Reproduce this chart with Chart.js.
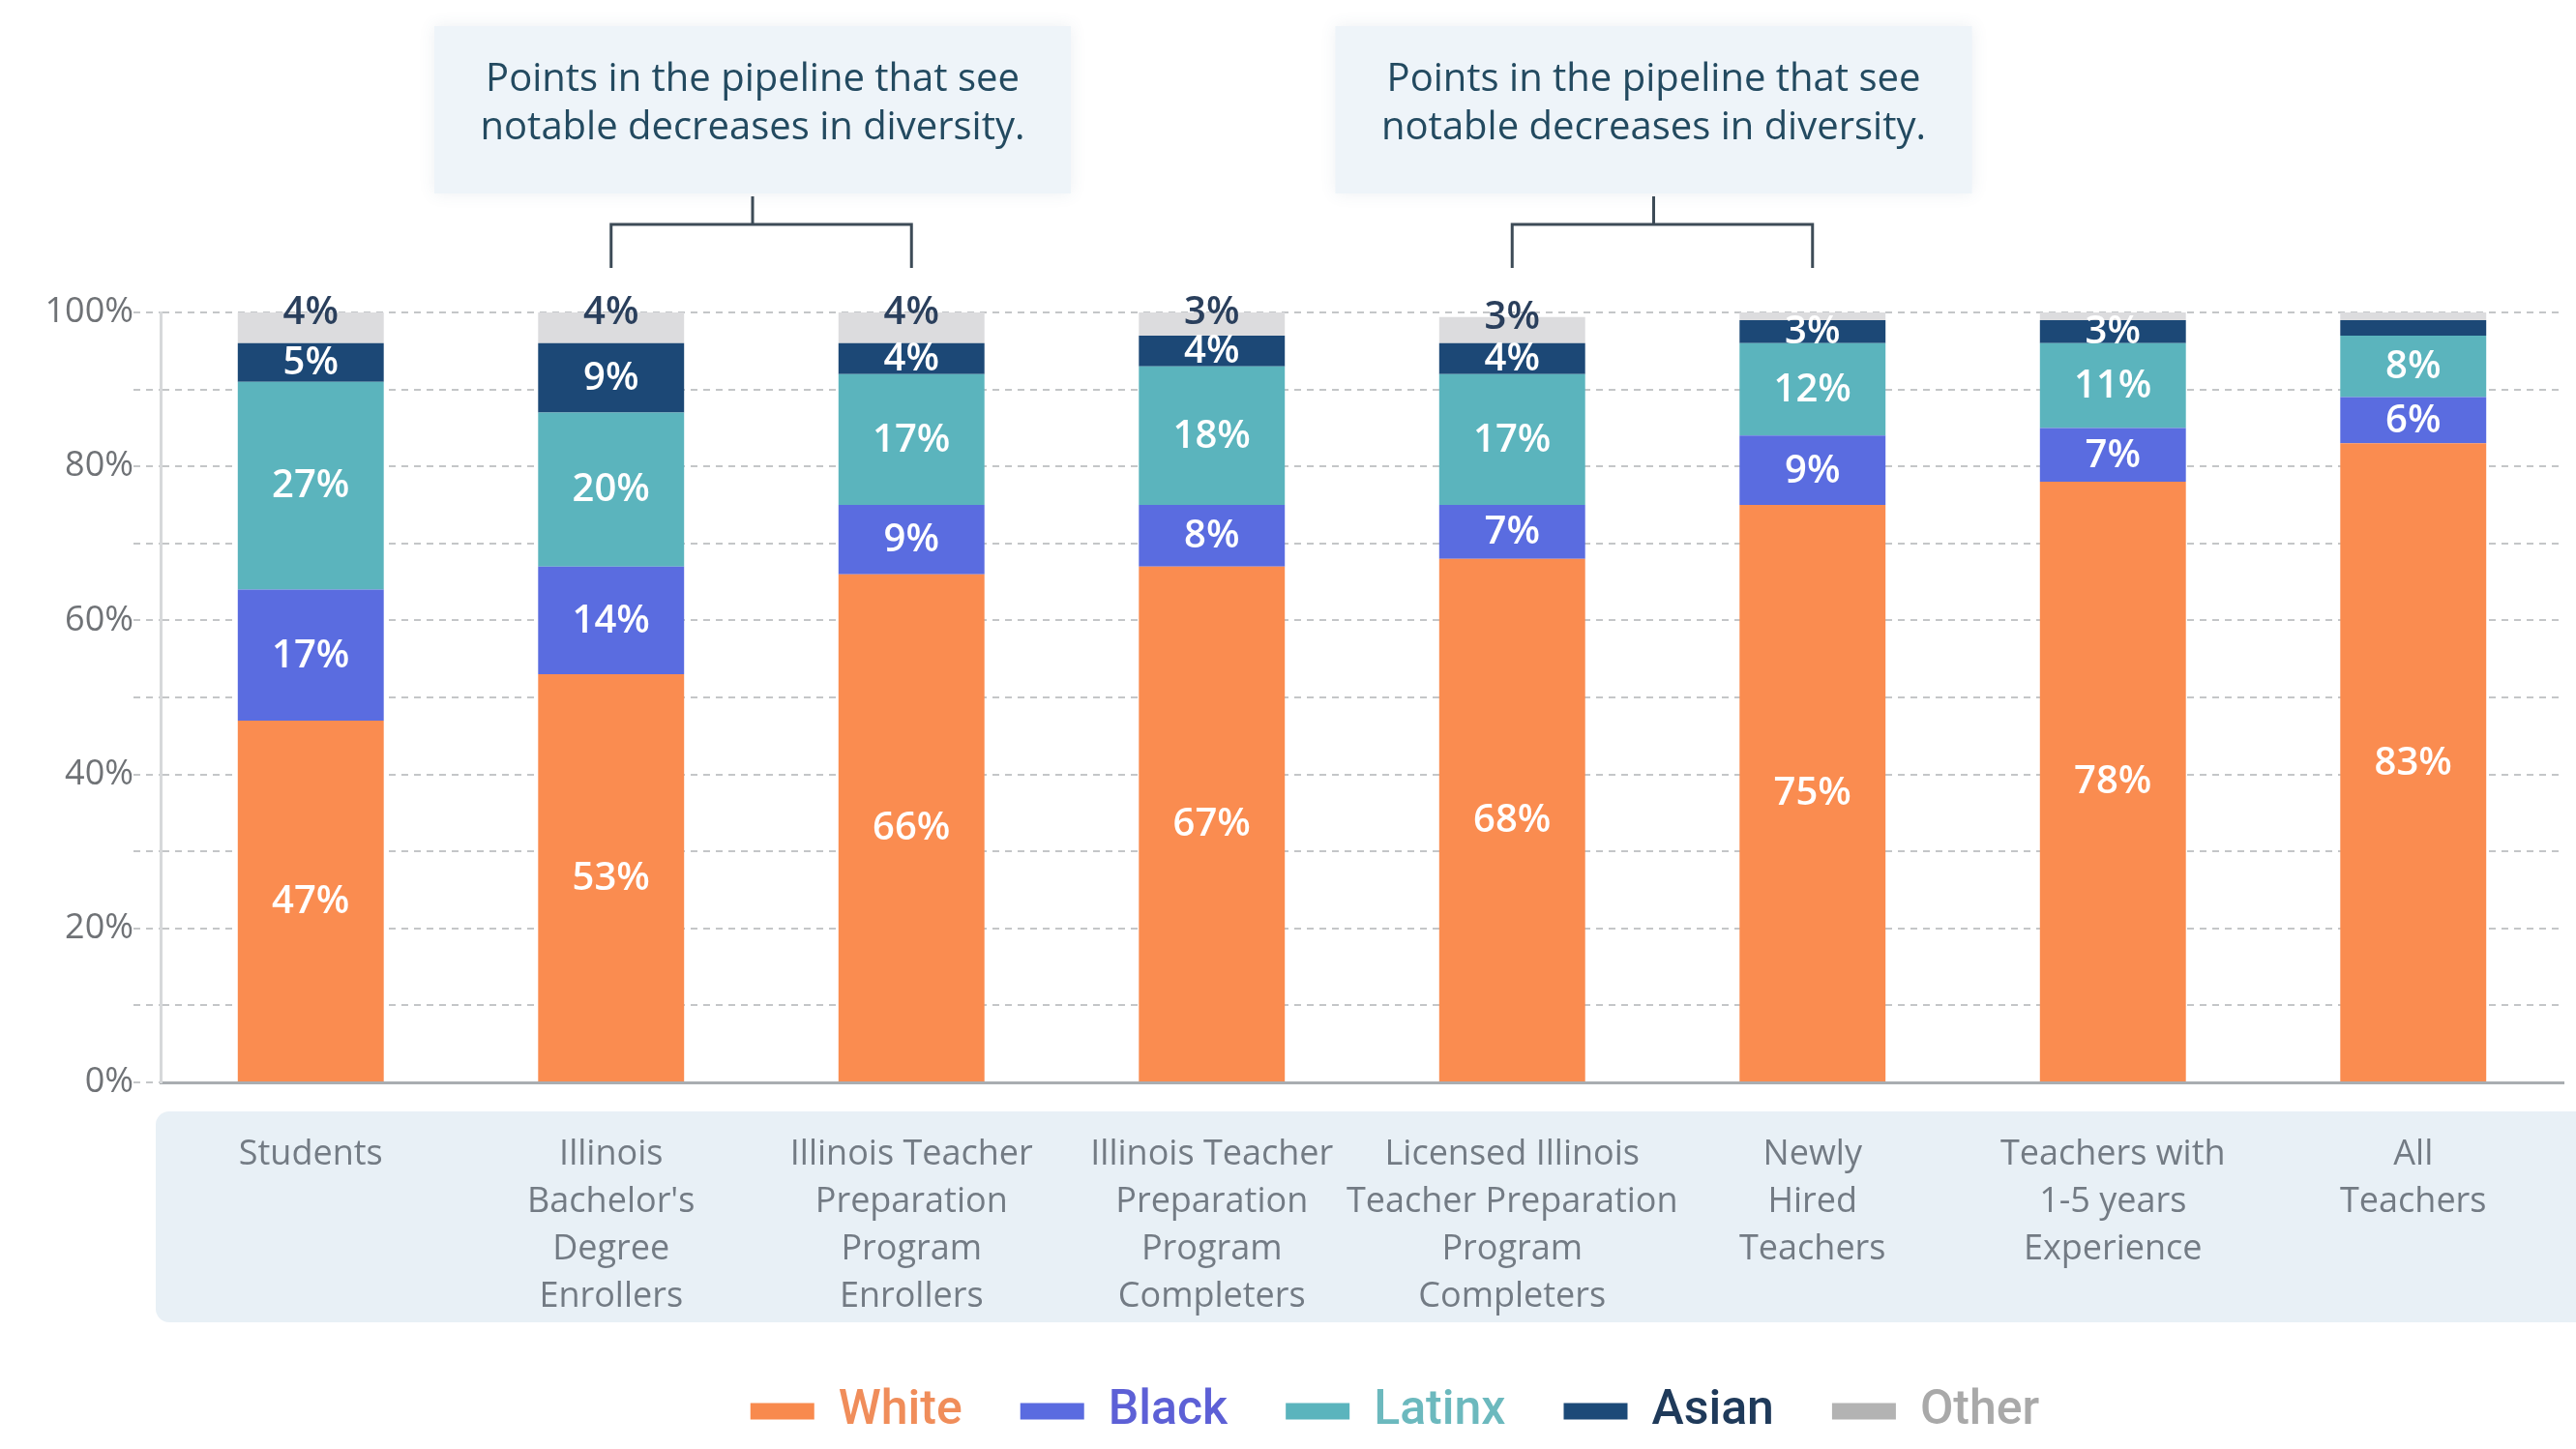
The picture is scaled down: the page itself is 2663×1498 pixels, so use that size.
<!DOCTYPE html>
<html>
<head>
<meta charset="utf-8">
<script src="https://cdn.jsdelivr.net/npm/chart.js@4.4.0/dist/chart.umd.min.js"></script>
<style>
  html, body { margin: 0; padding: 0; background: #fff; }
  #wrap { width: 2663px; height: 1498px; }
</style>
</head>
<body>
<div id="wrap"><canvas id="chart" width="2663" height="1498"></canvas></div>
<script>
const categories = [
  "Students",
  ["Illinois", "Bachelor's", "Degree", "Enrollers"],
  ["Illinois Teacher", "Preparation", "Program", "Enrollers"],
  ["Illinois Teacher", "Preparation", "Program", "Completers"],
  ["Licensed Illinois", "Teacher Preparation", "Program", "Completers"],
  ["Newly", "Hired", "Teachers"],
  ["Teachers with", "1-5 years", "Experience"],
  ["All", "Teachers"]
];

const white  = [47, 53, 66, 67, 68, 75, 78, 83];
const black  = [17, 14, 9, 8, 7, 9, 7, 6];
const latinx = [27, 20, 17, 18, 17, 12, 11, 8];
const asian  = [5, 9, 4, 4, 4, 3, 3, 2];
const other  = [4, 4, 4, 3, 3.4, 1, 1, 1];

const seriesNames = ["White", "Black", "Latinx", "Asian", "Other"];
const barColors   = ["#fa8c50", "#5a6ce0", "#5bb4bd", "#1c4876", "#dcdcde"];
const legendSwatch = ["#f88a4e", "#5a6be0", "#5bb4bd", "#1c4a78", "#b3b3b3"];
const legendText   = ["#f08d5a", "#5d60d6", "#6cb9be", "#1f3a5a", "#a9a9a9"];

const yTicks = [0, 20, 40, 60, 80, 100];

// callouts: pairs of category indexes joined by a bracket
const calloutPairs = [[1, 2], [4, 5]];
const calloutLines = ["Points in the pipeline that see", "notable decreases in diversity."];

const decor = {
  id: "decor",
  afterLayout(chart) {
    const lg = chart.legend;
    lg.left += 117;
    lg.right += 117;
  },
  beforeDraw(chart) {
    const ctx = chart.ctx;
    const area = chart.chartArea;
    ctx.save();
    ctx.fillStyle = "#e8f0f6";
    ctx.beginPath();
    ctx.roundRect(area.left - 5, area.bottom + 30, chart.width - area.left + 5, 218, [14, 0, 0, 14]);
    ctx.fill();
    ctx.restore();
  },
  afterDatasetsDraw(chart) {
    const ctx = chart.ctx;
    ctx.save();
    ctx.font = "600 40px 'Open Sans'";
    ctx.textAlign = "center";
    ctx.textBaseline = "middle";
    chart.data.datasets.forEach((ds, di) => {
      const meta = chart.getDatasetMeta(di);
      meta.data.forEach((bar, i) => {
        const v = ds.data[i];
        if (v < 2.5) return;
        const isOther = ds.label === "Other";
        const y = isOther ? bar.y : (bar.y + bar.base) / 2;
        ctx.fillStyle = isOther ? "#2a3f5c" : "#ffffff";
        ctx.fillText(Math.round(v) + "%", bar.x, y + 1);
      });
    });
    ctx.restore();
  },
  afterDraw(chart) {
    const ctx = chart.ctx;
    const xs = chart.scales.x;
    calloutPairs.forEach(([a, b]) => {
      const xa = xs.getPixelForValue(a);
      const xb = xs.getPixelForValue(b);
      const mid = (xa + xb) / 2 - 9;
      const w = 658, h = 173, top = 27;
      ctx.save();
      ctx.shadowColor = "rgba(70,100,130,0.10)";
      ctx.shadowBlur = 16;
      ctx.fillStyle = "#eef4f9";
      ctx.fillRect(mid - w / 2, top, w, h);
      ctx.restore();

      ctx.save();
      ctx.fillStyle = "#234a60";
      ctx.font = "500 40px 'Open Sans'";
      ctx.textAlign = "center";
      ctx.textBaseline = "middle";
      ctx.fillText(calloutLines[0], mid, top + 56);
      ctx.fillText(calloutLines[1], mid, top + 106);

      ctx.strokeStyle = "#3d4b57";
      ctx.lineWidth = 3;
      ctx.beginPath();
      ctx.moveTo(mid, top + h + 3);
      ctx.lineTo(mid, 232);
      ctx.moveTo(xa, 277);
      ctx.lineTo(xa, 232);
      ctx.lineTo(xb, 232);
      ctx.lineTo(xb, 277);
      ctx.stroke();
      ctx.restore();
    });
  }
};

const datasets = [white, black, latinx, asian, other].map((d, i) => ({
  label: seriesNames[i],
  data: d,
  backgroundColor: barColors[i],
  borderWidth: 0,
  categoryPercentage: 1,
  barPercentage: 0.486
}));

new Chart(document.getElementById("chart").getContext("2d"), {
  type: "bar",
  data: { labels: categories, datasets: datasets },
  plugins: [decor],
  options: {
    responsive: false,
    devicePixelRatio: 1,
    animation: false,
    layout: { padding: { top: 323, left: 0, right: 13, bottom: 4 } },
    plugins: {
      tooltip: { enabled: false },
      legend: {
        position: "bottom",
        labels: {
          boxWidth: 66,
          boxHeight: 17,
          padding: 60,
          font: { family: "Roboto", size: 50, weight: "500" },
          generateLabels: (chart) => chart.data.datasets.map((ds, i) => ({
            text: ds.label,
            fillStyle: legendSwatch[i],
            strokeStyle: legendSwatch[i],
            lineWidth: 0,
            fontColor: legendText[i],
            datasetIndex: i,
            hidden: false
          }))
        }
      }
    },
    scales: {
      x: {
        stacked: true,
        grid: { display: false },
        border: { color: "#a9adb1", width: 3 },
        ticks: {
          padding: 42,
          color: "#737b84",
          maxRotation: 0,
          autoSkip: false,
          font: { family: "Open Sans", size: 36, lineHeight: 1.36 }
        },
        afterFit: (s) => { s.height = 255; }
      },
      y: {
        stacked: true,
        min: 0,
        max: 100,
        grid: {
          color: "#c4c6c8",
          lineWidth: 2,
          tickLength: 28,
          tickColor: "#c4c6c8",
          tickWidth: 2,
          tickBorderDash: [7, 6]
        },
        border: { color: "#d6d8da", width: 3, dash: [7, 6] },
        ticks: {
          stepSize: 10,
          autoSkip: false,
          padding: 0,
          color: "#6f7276",
          font: { family: "Open Sans", size: 36 },
          callback: (v) => (yTicks.includes(v) ? v + "%" : "")
        },
        afterFit: (s) => { s.width = 166; }
      }
    }
  }
});
</script>
</body>
</html>
